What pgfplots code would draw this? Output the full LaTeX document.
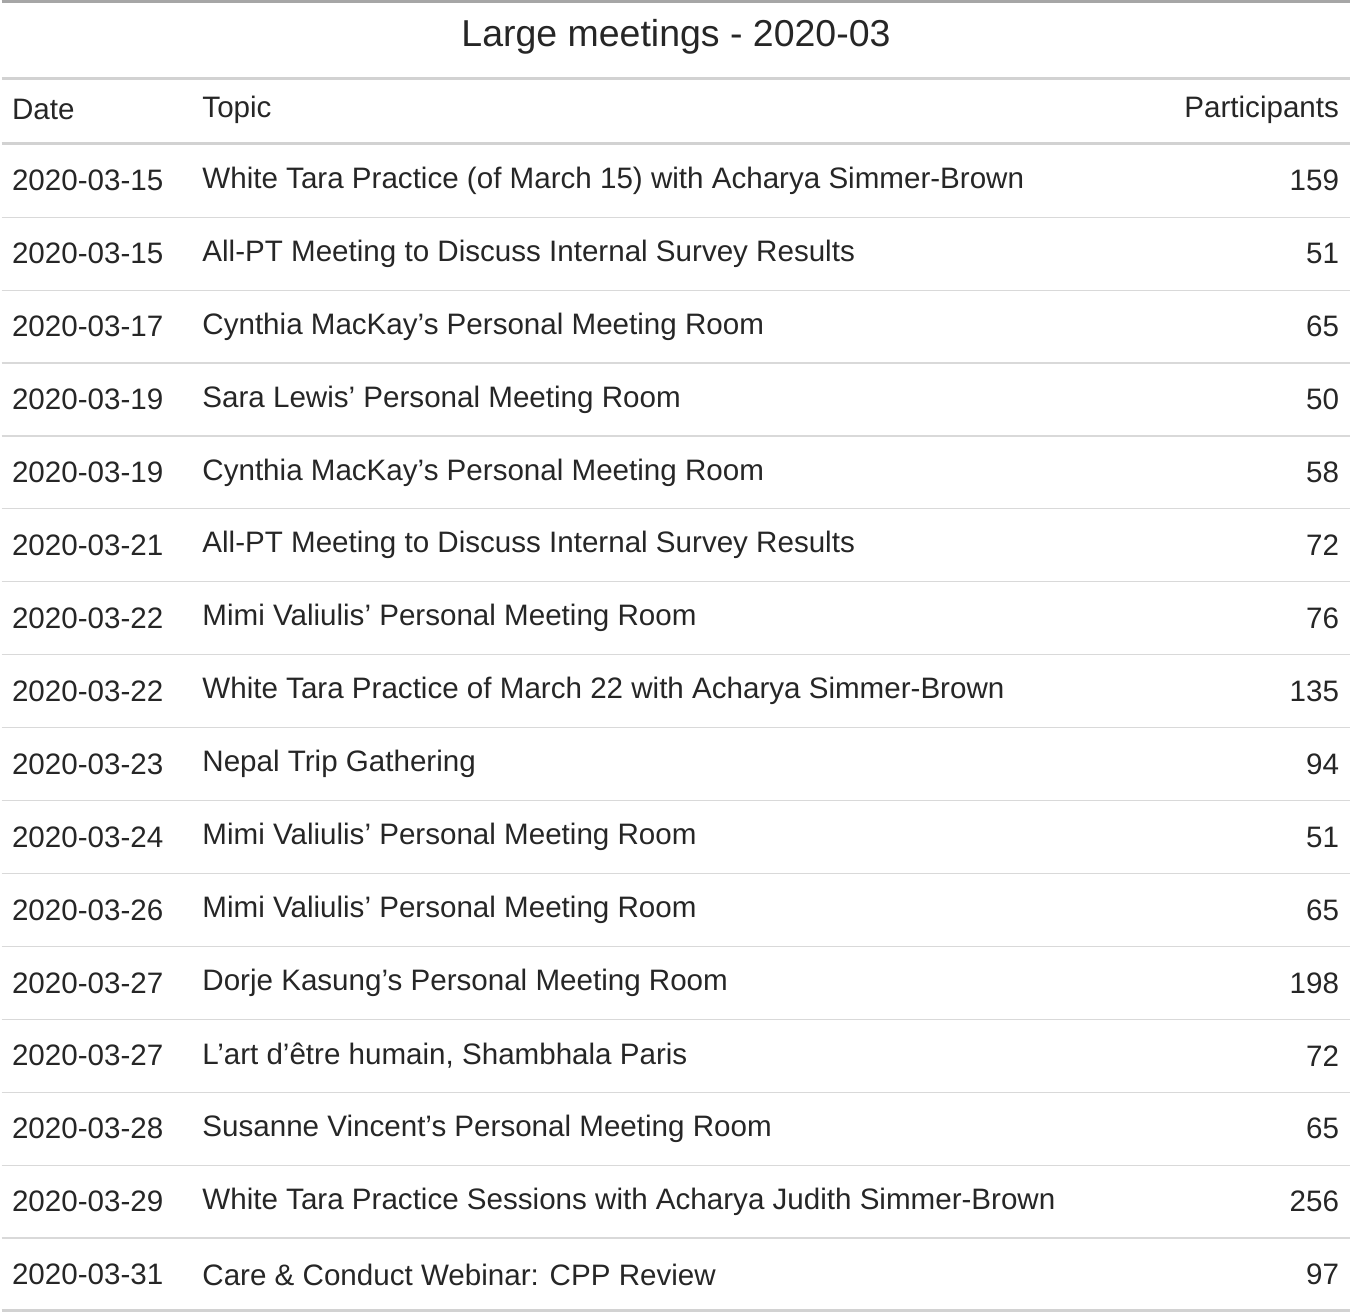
\documentclass[border=0pt]{standalone}
\usepackage{pgfplots}
\pgfplotsset{compat=1.18}
\usepackage{fontspec}
\setmainfont{Liberation Sans}
\begin{document}
\begin{tikzpicture}[x=0.5pt, y=-0.5pt, yshift=659pt]
\begin{axis}[at={(0pt,-659pt)}, anchor=south west, scale only axis, width=676pt, height=659pt, xmin=0, xmax=1352, ymin=0, ymax=1318, y dir=reverse, hide axis, clip=false]
\addplot[draw=none, mark=none, nodes near coords, point meta=explicit symbolic,
  nodes near coords style={anchor=east, inner sep=0pt, font=\fontsize{14.6}{17}\selectfont, text=black!85}]
  table[x=x, y=y, meta=v] {
x y v
1331 189 159
1331 261 51
1331 333 65
1331 405 50
1331 477 58
1331 549 72
1331 621 76
1331 693 135
1331 765 94
1331 837 51
1331 909 65
1331 981 198
1331 1053 72
1331 1125 65
1331 1197 256
1331 1269 97
};
\end{axis}
\draw[gray!70, line width=1.5pt] (10,12) -- (1342,12);
\draw[gray!35, line width=1.5pt] (10,88) -- (1342,88);
\draw[gray!35, line width=1.5pt] (10,152) -- (1342,152);
\foreach \k in {0,...,14} {\draw[gray!30, line width=0.6pt] (10,225+72*\k) -- (1342,225+72*\k);}
\draw[gray!35, line width=1.5pt] (10,1305) -- (1342,1305);
\node[font=\fontsize{18.5}{22}\selectfont, text=black!85] at (676,47) {Large meetings - 2020-03};
\node[font=\fontsize{14.6}{17}\selectfont, anchor=west, inner sep=0pt, text=black!85] at (20,119) {Date};
\node[font=\fontsize{14.6}{17}\selectfont, anchor=west, inner sep=0pt, text=black!85] at (208,119) {Topic};
\node[font=\fontsize{14.6}{17}\selectfont, anchor=east, inner sep=0pt, text=black!85] at (1331,119) {Participants};
\foreach \d/\t [count=\i from 0] in {
2020-03-15/White Tara Practice (of March 15) with Acharya Simmer-Brown,
2020-03-15/All-PT Meeting to Discuss Internal Survey Results,
2020-03-17/Cynthia MacKay's Personal Meeting Room,
2020-03-19/Sara Lewis' Personal Meeting Room,
2020-03-19/Cynthia MacKay's Personal Meeting Room,
2020-03-21/All-PT Meeting to Discuss Internal Survey Results,
2020-03-22/Mimi Valiulis' Personal Meeting Room,
2020-03-22/White Tara Practice of March 22 with Acharya Simmer-Brown,
2020-03-23/Nepal Trip Gathering,
2020-03-24/Mimi Valiulis' Personal Meeting Room,
2020-03-26/Mimi Valiulis' Personal Meeting Room,
2020-03-27/Dorje Kasung's Personal Meeting Room,
2020-03-27/{L'art d'être humain, Shambhala Paris},
2020-03-28/Susanne Vincent's Personal Meeting Room,
2020-03-29/White Tara Practice Sessions with Acharya Judith Simmer-Brown,
2020-03-31/Care \& Conduct Webinar: CPP Review} {
\node[font=\fontsize{14.6}{17}\selectfont, anchor=west, inner sep=0pt, text=black!85] at (20,189+72*\i) {\d};
\node[font=\fontsize{14.6}{17}\selectfont, anchor=west, inner sep=0pt, text=black!85] at (208,189+72*\i) {\t};
}
\end{tikzpicture}
\end{document}
